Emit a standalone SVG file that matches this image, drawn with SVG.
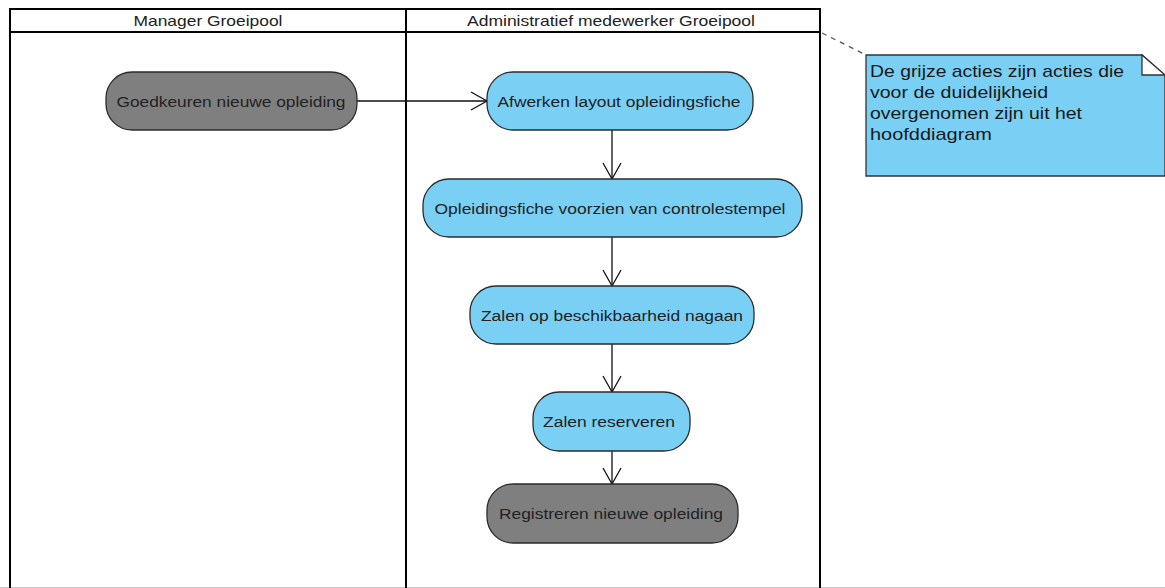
<svg xmlns="http://www.w3.org/2000/svg" width="1165" height="588" viewBox="0 0 1165 588">
  <style>
    .lane { fill: none; stroke: #000; stroke-width: 2; }
    .hdr { font-family: "Liberation Sans", Arial, sans-serif; font-size: 15px; fill: #222; text-anchor: middle; }
    .act { stroke: #2b2b2b; stroke-width: 1.3; }
    .blue { fill: #79cff4; }
    .grey { fill: #7f7f7f; }
    .lbl { font-family: "Liberation Sans", Arial, sans-serif; font-size: 15.5px; fill: #222; text-anchor: middle; }
    .flow { fill: none; stroke: #111; stroke-width: 1.3; }
    .note { fill: #79cff4; stroke: #333; stroke-width: 1.3; }
    .ntxt { font-family: "Liberation Sans", Arial, sans-serif; font-size: 17px; fill: #1a1a1a; }
  </style>
  <defs>
    <marker id="open" markerUnits="userSpaceOnUse" markerWidth="20" markerHeight="22" viewBox="0 0 20 22" refX="17" refY="11" orient="auto">
      <path d="M1,2 L17,11 L1,20" fill="none" stroke="#111" stroke-width="1.3"/>
    </marker>
  </defs>

  <rect width="1165" height="588" fill="#fff"/>
  <line x1="0" y1="587.5" x2="1165" y2="587.5" stroke="#c8c8c8" stroke-width="1"/>

  <!-- swimlanes -->
  <g id="lanes">
    <rect class="lane" x="10" y="9" width="810" height="600"/>
    <line class="lane" x1="10" y1="32" x2="820" y2="32"/>
    <line class="lane" x1="406" y1="9" x2="406" y2="600"/>
    <text class="hdr" x="208" y="26" textLength="149" lengthAdjust="spacingAndGlyphs">Manager Groeipool</text>
    <text class="hdr" x="611" y="26" textLength="288" lengthAdjust="spacingAndGlyphs">Administratief medewerker Groeipool</text>
  </g>

  <!-- control flows -->
  <g id="connectors">
    <line class="flow" x1="357" y1="101" x2="487" y2="101" marker-end="url(#open)"/>
    <line class="flow" x1="612" y1="130" x2="612" y2="179" marker-end="url(#open)"/>
    <line class="flow" x1="612" y1="237" x2="612" y2="286" marker-end="url(#open)"/>
    <line class="flow" x1="612" y1="344" x2="612" y2="392" marker-end="url(#open)"/>
    <line class="flow" x1="612" y1="451" x2="612" y2="484" marker-end="url(#open)"/>
    <line x1="822" y1="33" x2="866" y2="55" stroke="#555" stroke-width="1.3" stroke-dasharray="5,5"/>
  </g>

  <g id="goedkeuren">
    <rect class="act grey" x="106" y="72" width="251" height="58" rx="26"/>
    <text class="lbl" x="231" y="107" textLength="229" lengthAdjust="spacingAndGlyphs">Goedkeuren nieuwe opleiding</text>
  </g>

  <g id="afwerken">
    <rect class="act blue" x="487" y="72" width="266" height="58" rx="26"/>
    <text class="lbl" x="619" y="107" textLength="243" lengthAdjust="spacingAndGlyphs">Afwerken layout opleidingsfiche</text>
  </g>

  <g id="controlestempel">
    <rect class="act blue" x="423" y="179" width="379" height="58" rx="26"/>
    <text class="lbl" x="610" y="214" textLength="351" lengthAdjust="spacingAndGlyphs">Opleidingsfiche voorzien van controlestempel</text>
  </g>

  <g id="beschikbaarheid">
    <rect class="act blue" x="470" y="286" width="284" height="58" rx="26"/>
    <text class="lbl" x="612" y="321" textLength="262" lengthAdjust="spacingAndGlyphs">Zalen op beschikbaarheid nagaan</text>
  </g>

  <g id="reserveren">
    <rect class="act blue" x="533" y="392" width="157" height="59" rx="26"/>
    <text class="lbl" x="609" y="427" textLength="132" lengthAdjust="spacingAndGlyphs">Zalen reserveren</text>
  </g>

  <g id="registreren">
    <rect class="act grey" x="487" y="484" width="251" height="59" rx="26"/>
    <text class="lbl" x="611" y="519" textLength="224" lengthAdjust="spacingAndGlyphs">Registreren nieuwe opleiding</text>
  </g>

  <!-- comment note -->
  <g id="note">
    <polygon class="note" points="866,55 1142,55 1165,75 1165,176 866,176"/>
    <polygon points="1142,55 1142,75 1165,75" fill="#fff" stroke="#333" stroke-width="1.3"/>
    <text class="ntxt" x="870" y="77" textLength="254" lengthAdjust="spacingAndGlyphs">De grijze acties zijn acties die</text>
    <text class="ntxt" x="870" y="98" textLength="178" lengthAdjust="spacingAndGlyphs">voor de duidelijkheid</text>
    <text class="ntxt" x="870" y="119" textLength="212" lengthAdjust="spacingAndGlyphs">overgenomen zijn uit het</text>
    <text class="ntxt" x="870" y="140" textLength="122" lengthAdjust="spacingAndGlyphs">hoofddiagram</text>
  </g>
</svg>
